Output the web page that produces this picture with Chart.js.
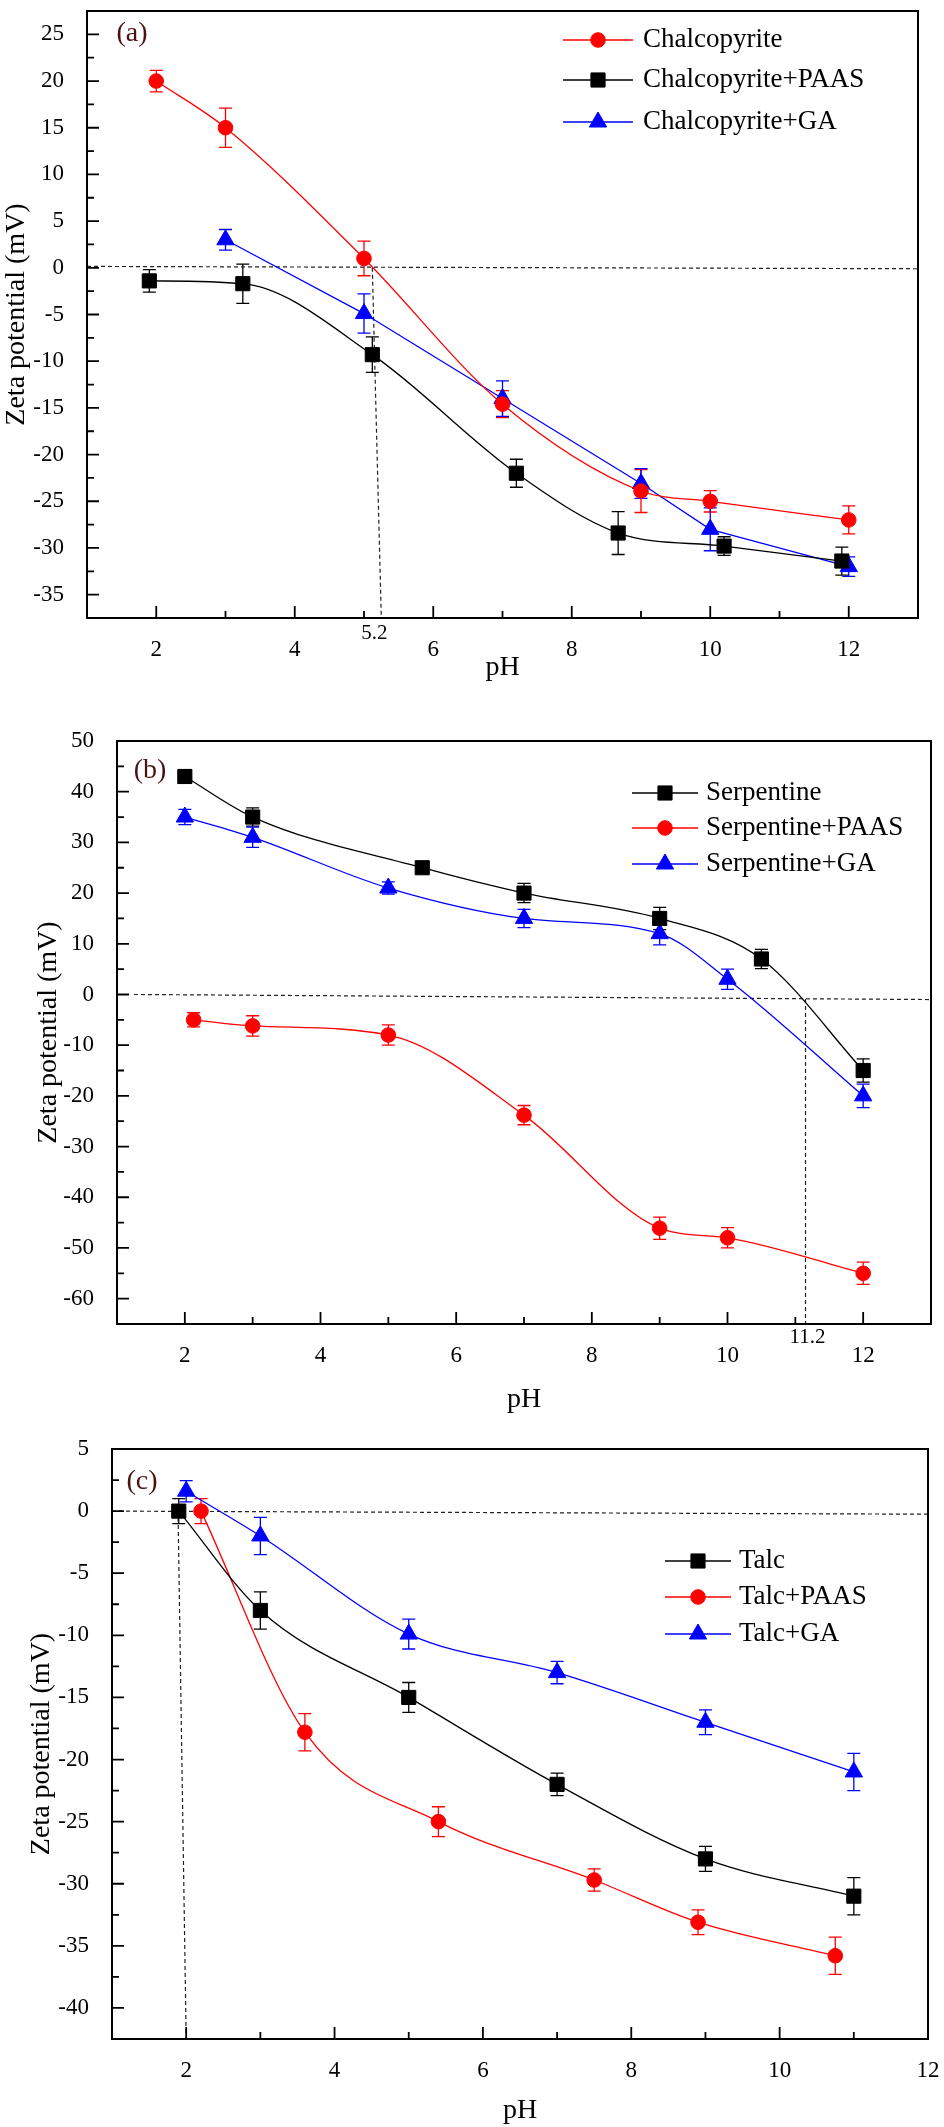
<!DOCTYPE html>
<html>
<head>
  <title>Zeta potential vs pH</title>
  <script src="https://cdn.jsdelivr.net/npm/chart.js"></script>
  <style>
    body { margin: 0; background: #fff; }
    canvas { position: absolute; left: 0; }
  </style>
</head>
<body>
  <canvas id="chartA" width="944" height="700" style="top:0px"></canvas>
  <canvas id="chartB" width="944" height="730" style="top:700px"></canvas>
  <canvas id="chartC" width="944" height="697" style="top:1430px"></canvas>

  <script>
    // (a) chalcopyrite
    const phChal = [2, 3, 5, 7, 9, 10, 12];
    const zetaChal = [20, 15, 1, -14.6, -23.9, -25, -27];
    const errChal = [1.15, 2.1, 1.85, 1.45, 2.3, 1.15, 1.5];
    const phChalPaas = [1.9, 3.25, 5.12, 7.2, 8.67, 10.2, 11.9];
    const zetaChalPaas = [-1.4, -1.7, -9.3, -22, -28.4, -29.8, -31.4];
    const errChalPaas = [1.2, 2.1, 1.9, 1.5, 2.3, 1.0, 1.5];
    const phChalGa = [3, 5, 7, 9, 10, 12];
    const zetaChalGa = [3, -4.9, -14, -23.1, -28, -32];
    const errChalGa = [1.1, 2.1, 1.9, 1.6, 2.3, 1.05];
    const zeroA_x = [1, 13], zeroA_y = [0.15, -0.1];
    const iepA_x = [5.12, 5.25], iepA_y = [0, -37.5];

    // (b) serpentine
    const phSerp = [2, 3, 5.5, 7, 9, 10.5, 12];
    const zetaSerp = [43, 35, 25, 20, 15, 7, -15];
    const errSerp = [1.3, 1.8, 0.8, 1.9, 2.2, 1.9, 2.3];
    const phSerpPaas = [2.13, 3, 5, 7, 9, 10, 12];
    const zetaSerpPaas = [-5, -6.2, -8, -23.8, -46.1, -48, -55];
    const errSerpPaas = [1.4, 2, 2, 1.9, 2.2, 2, 2.2];
    const phSerpGa = [2, 3, 5, 7, 9, 10, 12];
    const zetaSerpGa = [35, 31, 21, 15, 12, 3, -20];
    const errSerpGa = [1.5, 2, 1.2, 1.8, 2.2, 2, 2.3];
    const zeroB_x = [1.25, 13], zeroB_y = [0, -1.0];
    const iepB_x = [11.15, 11.15], iepB_y = [-0.9, -65];

    // (c) talc
    const phTalc = [1.9, 3, 5, 7, 9, 11];
    const zetaTalc = [0, -8, -15, -22, -28, -31];
    const errTalc = [1, 1.5, 1.2, 0.9, 1, 1.5];
    const phTalcPaas = [2.2, 3.6, 5.4, 7.5, 8.9, 10.75];
    const zetaTalcPaas = [0, -17.8, -25, -29.7, -33.1, -35.8];
    const errTalcPaas = [1, 1.5, 1.2, 0.9, 1, 1.5];
    const phTalcGa = [2, 3, 5, 7, 9, 11];
    const zetaTalcGa = [1.6, -2, -9.9, -13, -17, -21];
    const errTalcGa = [0.85, 1.5, 1.2, 0.9, 1, 1.5];
    const zeroC_x = [1, 12], zeroC_y = [0, -0.25];
    const iepC_x = [1.89, 2.0], iepC_y = [0, -42.5];

    const RED = '#ff0000', BLACK = '#000000', BLUE = '#0000ff';
    const SERIF = '"Liberation Serif", "Times New Roman", serif';

    const pts = (xs, ys) => xs.map((x, i) => ({ x: x, y: ys[i] }));

    function series(label, xs, ys, errs, color, style, radius, smooth) {
      return {
        label: label,
        data: pts(xs, ys),
        errors: errs,
        inLegend: true,
        borderColor: color,
        backgroundColor: color,
        pointBackgroundColor: color,
        pointBorderColor: color,
        pointBorderWidth: 1,
        pointStyle: style,
        pointRadius: radius,
        pointHoverRadius: radius,
        borderWidth: 1.3,
        tension: smooth ? 0.4 : 0,
        cubicInterpolationMode: smooth ? 'monotone' : 'default'
      };
    }

    function guide(xs, ys) {
      return {
        data: pts(xs, ys),
        borderColor: '#222',
        borderWidth: 1.2,
        borderDash: [4, 3],
        pointRadius: 0,
        tension: 0
      };
    }

    // vertical error bars with caps
    const errorBars = {
      id: 'errorBars',
      beforeDatasetsDraw(chart) {
        const ctx = chart.ctx, ys = chart.scales.y;
        chart.data.datasets.forEach((ds, i) => {
          if (!ds.errors) return;
          const meta = chart.getDatasetMeta(i);
          ctx.save();
          ctx.strokeStyle = ds.borderColor;
          ctx.lineWidth = 1.3;
          meta.data.forEach((pt, j) => {
            const v = ds.data[j].y, e = ds.errors[j];
            const top = ys.getPixelForValue(v + e), bot = ys.getPixelForValue(v - e);
            ctx.beginPath();
            ctx.moveTo(pt.x, top); ctx.lineTo(pt.x, bot);
            ctx.moveTo(pt.x - 6.5, top); ctx.lineTo(pt.x + 6.5, top);
            ctx.moveTo(pt.x - 6.5, bot); ctx.lineTo(pt.x + 6.5, bot);
            ctx.stroke();
          });
          ctx.restore();
        });
      }
    };

    // box frame + inward major/minor ticks
    const frame = {
      id: 'frame',
      afterDatasetsDraw(chart, args, opts) {
        const { ctx, chartArea: a } = chart;
        const xs = chart.scales.x, ys = chart.scales.y;
        ctx.save();
        ctx.strokeStyle = '#000';
        ctx.lineWidth = 2;
        ctx.strokeRect(a.left, a.top, a.right - a.left, a.bottom - a.top);
        ctx.lineWidth = 1.8;
        ctx.beginPath();
        xs.ticks.forEach(t => {
          const px = xs.getPixelForValue(t.value);
          const len = Math.abs(t.value % opts.xMajor) < 1e-9 ? 12 : 7;
          ctx.moveTo(px, a.bottom); ctx.lineTo(px, a.bottom - len);
        });
        ys.ticks.forEach(t => {
          const py = ys.getPixelForValue(t.value);
          const len = Math.abs(t.value % opts.yMajor) < 1e-9 ? 12 : 7;
          ctx.moveTo(a.left, py); ctx.lineTo(a.left + len, py);
        });
        ctx.stroke();
        ctx.restore();
      }
    };

    // legend drawn inside the plot
    const keyBox = {
      id: 'keyBox',
      afterDatasetsDraw(chart, args, o) {
        const ctx = chart.ctx;
        let row = 0;
        chart.data.datasets.forEach(ds => {
          if (!ds.inLegend) return;
          const y = o.rows[row++];
          ctx.save();
          ctx.strokeStyle = ds.borderColor;
          ctx.fillStyle = ds.borderColor;
          ctx.lineWidth = 1.3;
          ctx.beginPath();
          ctx.moveTo(o.x, y); ctx.lineTo(o.x + o.len, y);
          ctx.stroke();
          ctx.lineWidth = 1;
          Chart.helpers.drawPoint(ctx, { pointStyle: ds.pointStyle, radius: ds.pointRadius, rotation: 0, borderWidth: 1 }, o.x + o.len / 2, y);
          ctx.fillStyle = '#000';
          ctx.font = '27px ' + SERIF;
          ctx.textAlign = 'left';
          ctx.textBaseline = 'middle';
          ctx.fillText(ds.label, o.x + o.len + o.gap, y);
          ctx.restore();
        });
      }
    };

    // panel letter and marked pH values
    const notes = {
      id: 'notes',
      afterDraw(chart, args, o) {
        const ctx = chart.ctx;
        (o.items || []).forEach(n => {
          ctx.save();
          ctx.font = n.font;
          ctx.fillStyle = n.color || '#000';
          ctx.textAlign = 'center';
          ctx.textBaseline = 'middle';
          const x = n.xValue !== undefined ? chart.scales.x.getPixelForValue(n.xValue) : n.x;
          const y = n.below !== undefined ? chart.chartArea.bottom + n.below : n.y;
          ctx.fillText(n.text, x, y);
          ctx.restore();
        });
      }
    };

    function makeChart(id, datasets, ax) {
      const tickFont = { family: SERIF, size: 23 };
      const titleFont = { family: SERIF, size: 28 };
      return new Chart(document.getElementById(id), {
        type: 'line',
        data: { datasets: datasets },
        plugins: [errorBars, frame, keyBox, notes],
        options: {
          responsive: false,
          animation: false,
          events: [],
          layout: { padding: { top: ax.padTop, right: ax.padRight, left: 0, bottom: 0 } },
          plugins: {
            legend: { display: false },
            tooltip: { enabled: false },
            frame: { xMajor: 2, yMajor: ax.yMajor },
            keyBox: ax.key,
            notes: { items: ax.notes }
          },
          scales: {
            x: {
              type: 'linear',
              min: ax.xMin, max: ax.xMax,
              grid: { display: false },
              border: { display: false },
              ticks: {
                stepSize: 1, autoSkip: false, maxRotation: 0, padding: 10,
                color: '#000', font: tickFont,
                callback: v => (v % 2 === 0 ? v : '')
              },
              title: { display: true, text: 'pH', color: '#000', font: titleFont, padding: { top: 0, bottom: ax.xTitlePad } },
              afterFit: s => { s.height = ax.xHeight; s.paddingLeft = 0; s.paddingRight = 0; }
            },
            y: {
              min: ax.yMin, max: ax.yMax,
              grid: { display: false },
              border: { display: false },
              ticks: {
                stepSize: ax.yStep, autoSkip: false, padding: 15,
                color: '#000', font: tickFont,
                callback: v => (Math.abs(v % ax.yMajor) < 1e-9 ? v : '')
              },
              title: { display: true, text: 'Zeta potential (mV)', color: '#000', font: titleFont, padding: { top: ax.yTitlePad, bottom: 0 } },
              afterFit: s => { s.width = ax.yWidth; s.paddingTop = 0; s.paddingBottom = 0; }
            }
          }
        }
      });
    }

    const labelFont = '28px ' + SERIF, labelColor = '#4a1212';

    makeChart('chartA', [
      series('Chalcopyrite', phChal, zetaChal, errChal, RED, 'circle', 7.3, true),
      series('Chalcopyrite+PAAS', phChalPaas, zetaChalPaas, errChalPaas, BLACK, 'rect', 10, true),
      series('Chalcopyrite+GA', phChalGa, zetaChalGa, errChalGa, BLUE, 'triangle', 10, false),
      guide(zeroA_x, zeroA_y),
      guide(iepA_x, iepA_y)
    ], {
      xMin: 1, xMax: 13, yMin: -37.5, yMax: 27.5, yStep: 2.5, yMajor: 5,
      padTop: 3, padRight: 26, yWidth: 87, xHeight: 82, xTitlePad: 16, yTitlePad: 0,
      key: { x: 563, len: 70, gap: 10, rows: [40, 80, 122] },
      notes: [
        { text: '(a)', x: 132, y: 34, font: labelFont, color: labelColor },
        { text: '5.2', xValue: 5.15, below: 15, font: '21px ' + SERIF }
      ]
    });

    makeChart('chartB', [
      series('Serpentine', phSerp, zetaSerp, errSerp, BLACK, 'rect', 10, true),
      series('Serpentine+PAAS', phSerpPaas, zetaSerpPaas, errSerpPaas, RED, 'circle', 7.3, true),
      series('Serpentine+GA', phSerpGa, zetaSerpGa, errSerpGa, BLUE, 'triangle', 10, true),
      guide(zeroB_x, zeroB_y),
      guide(iepB_x, iepB_y)
    ], {
      xMin: 1, xMax: 13, yMin: -65, yMax: 50, yStep: 5, yMajor: 10,
      padTop: 41, padRight: 13, yWidth: 117, xHeight: 106, xTitlePad: 14, yTitlePad: 32,
      key: { x: 632, len: 66, gap: 8, rows: [93, 128, 164] },
      notes: [
        { text: '(b)', x: 150, y: 71, font: labelFont, color: labelColor },
        { text: '11.2', xValue: 11.18, below: 13, font: '21px ' + SERIF }
      ]
    });

    makeChart('chartC', [
      series('Talc', phTalc, zetaTalc, errTalc, BLACK, 'rect', 10, true),
      series('Talc+PAAS', phTalcPaas, zetaTalcPaas, errTalcPaas, RED, 'circle', 7.3, true),
      series('Talc+GA', phTalcGa, zetaTalcGa, errTalcGa, BLUE, 'triangle', 10, true),
      guide(zeroC_x, zeroC_y),
      guide(iepC_x, iepC_y)
    ], {
      xMin: 1, xMax: 12, yMin: -42.5, yMax: 5, yStep: 2.5, yMajor: 5,
      padTop: 19, padRight: 16, yWidth: 112, xHeight: 88, xTitlePad: 0, yTitlePad: 25,
      key: { x: 665, len: 66, gap: 8, rows: [131, 167, 204] },
      notes: [
        { text: '(c)', x: 142, y: 52, font: labelFont, color: labelColor }
      ]
    });
  </script>
</body>
</html>
